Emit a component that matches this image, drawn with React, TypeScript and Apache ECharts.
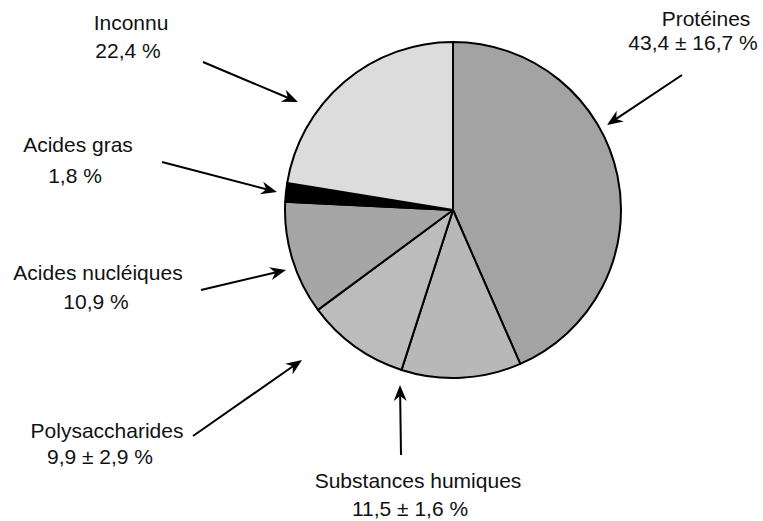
import React, { useEffect, useRef } from "react";
import * as echarts from "echarts";

// ---- data ----
const categories = [
  "Protéines",
  "Substances humiques",
  "Polysaccharides",
  "Acides nucléiques",
  "Acides gras",
  "Inconnu",
];
const values = [43.4, 11.5, 9.9, 10.9, 1.8, 22.4];
const errors: (number | null)[] = [16.7, 1.6, 2.9, null, null, null];

// ---- style / layout ----
const colors = ["#a3a3a3", "#b8b8b8", "#bcbcbc", "#a6a6a6", "#000000", "#dcdcdc"];
const nameLabelPos = [
  [706, 18.5],
  [418, 480],
  [107, 430.5],
  [98, 272.5],
  [78, 144.5],
  [131, 22.5],
];
const valueLabelPos = [
  [693, 42.5],
  [410, 508.5],
  [100, 456.5],
  [96, 301.5],
  [75, 175],
  [128, 50],
];
const arrowPos = [
  [682, 75, 607, 125],
  [401, 455, 400, 385],
  [193, 436, 302, 360],
  [201, 290, 286, 270],
  [162, 162, 277, 192],
  [203, 62, 298, 102],
];

const fmt = (v: number) => v.toFixed(1).replace(".", ",");
const FONT = "'Liberation Sans', Arial, sans-serif";

function arrowElements(a: number[]) {
  const [x1, y1, x2, y2] = a;
  const dx = x2 - x1;
  const dy = y2 - y1;
  const L = Math.hypot(dx, dy);
  const ux = dx / L;
  const uy = dy / L;
  const nx = -uy;
  const ny = ux;
  const len = 16;
  const w = 6.5;
  const notch = 11;
  return [
    {
      type: "line",
      silent: true,
      shape: { x1, y1, x2: x2 - notch * ux, y2: y2 - notch * uy },
      style: { stroke: "#000", lineWidth: 2 },
    },
    {
      type: "polygon",
      silent: true,
      shape: {
        points: [
          [x2, y2],
          [x2 - len * ux + w * nx, y2 - len * uy + w * ny],
          [x2 - notch * ux, y2 - notch * uy],
          [x2 - len * ux - w * nx, y2 - len * uy - w * ny],
        ],
      },
      style: { fill: "#000" },
    },
  ];
}

function textEl(text: string, p: number[]) {
  return {
    type: "text",
    silent: true,
    x: p[0],
    y: p[1],
    style: {
      text,
      fill: "#111",
      fontSize: 21,
      fontFamily: FONT,
      align: "center",
      verticalAlign: "middle",
      textAlign: "center",
      textVerticalAlign: "middle",
    },
  };
}

export default function App() {
  const ref = useRef<HTMLDivElement>(null);
  useEffect(() => {
    if (!ref.current) return;
    const chart = echarts.init(ref.current, undefined, { renderer: "svg" });
    const graphics: any[] = [];
    categories.forEach((name, i) => {
      const err = errors[i];
      const valText = `${fmt(values[i])}${err != null ? " ± " + fmt(err) : ""} %`;
      graphics.push(textEl(name, nameLabelPos[i]));
      graphics.push(textEl(valText, valueLabelPos[i]));
      graphics.push(...arrowElements(arrowPos[i]));
    });
    chart.setOption({
      animation: false,
      backgroundColor: "#ffffff",
      series: [
        {
          type: "pie",
          center: [453, 210],
          radius: 168,
          startAngle: 90,
          clockwise: true,
          silent: true,
          label: { show: false },
          labelLine: { show: false },
          emphasis: { disabled: true },
          itemStyle: { borderColor: "#000", borderWidth: 2 },
          data: categories.map((name, i) => ({
            name,
            value: values[i],
            itemStyle: { color: colors[i] },
          })),
        },
      ],
      graphic: graphics,
    });
    return () => chart.dispose();
  }, []);
  return (
    <div
      ref={ref}
      style={{ position: "fixed", left: 0, top: 0, width: 763, height: 521 }}
    />
  );
}
